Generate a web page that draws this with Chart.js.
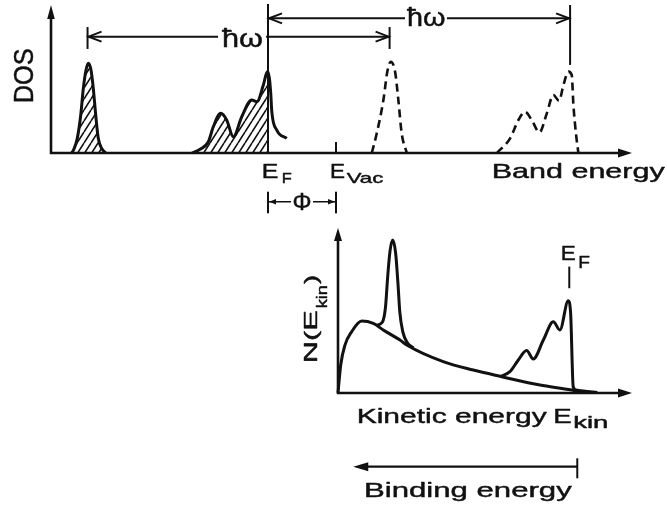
<!DOCTYPE html>
<html><head><meta charset="utf-8">
<script src="https://cdn.jsdelivr.net/npm/chart.js@4"></script>
<style>
html,body{margin:0;padding:0;background:#fff;}
#wrap{position:relative;width:667px;height:513px;background:#fff;}
canvas{position:absolute;left:0;top:0;}
</style></head><body>
<div id="wrap"><canvas id="topChart" width="667" height="513"></canvas><canvas id="botChart" width="667" height="513"></canvas></div>
<script>
// ---------- Top panel: DOS vs band energy (eV, E_F = 0) ----------
const EF = 0;
const Evac = 4.5;
const hw = 20;
const coreLevel = -11.95;
const coreE   = [-13.0,-12.85,-12.63,-12.4,-12.23,-12.05,-11.9,-11.72,-11.57,-11.41,-11.24,-10.99,-10.73];
const coreDOS = [0,0.027,0.099,0.257,0.437,0.561,0.606,0.561,0.437,0.257,0.099,0.027,0];
const valE   = [-5.03,-4.5,-3.95,-3.62,-3.13,-2.74,-2.30,-1.74,-1.08,-0.73,-0.31,-0.05,0,0.09,0.18,0.25,0.58,1.24];
const valDOS = [0,0.025,0.076,0.178,0.268,0.223,0.110,0.245,0.358,0.347,0.459,0.549,0.545,0.505,0.403,0.279,0.155,0.099];
const exCoreE   = [6.87,7.2,7.64,7.9,8.13,8.41,8.63,8.85,9.19];
const exCoreDOS = [0,0.133,0.358,0.55,0.617,0.55,0.358,0.133,0];
const exValE   = [15.15,16.03,16.58,17.02,17.46,17.97,18.46,18.89,19.27,19.56,19.89,20.11,20.22,20.4,20.55];
const exValDOS = [0,0.099,0.223,0.279,0.223,0.139,0.268,0.392,0.353,0.459,0.55,0.527,0.324,0.122,0];
const hwLabelUpperE = 10.46;
const hwLabelLowerE = -1.72;

// ---------- Bottom panel: N(E_kin) vs kinetic energy (eV) ----------
const bgE = [0,0.18,0.46,0.91,1.57,2.34,3.0,4.11,4.56,6.98,8.97,10.86,13.4,15.5,16.05];
const bgN = [0,0.17,0.29,0.372,0.436,0.422,0.382,0.321,0.291,0.19,0.139,0.099,0.048,0.018,0.006];
const corePeakE = [2.55,2.95,3.15,3.3,3.45,3.63,3.82,3.98,4.1,4.3,4.6,5.0];
const corePeakN = [0.41,0.43,0.52,0.71,0.86,0.927,0.85,0.66,0.49,0.37,0.305,0.273];
const valKinE = [10.74,11.4,11.96,12.51,12.95,13.62,14.28,14.72,15.27,15.43,15.6,15.78,16.27,17.2];
const valKinN = [0.099,0.129,0.2,0.257,0.206,0.321,0.432,0.382,0.559,0.483,0.038,0.018,0.012,0.003];
const EFkin = 15.34;
const bindRefE = 15.87;
const bindEndE = 1.01;

const ink = '#111';
const FONT = '"Liberation Sans", Arial, sans-serif';
const pts = (xs, ys) => xs.map((v, i) => ({x: v, y: ys[i]}));

function hatchPattern(){
  const c = document.createElement('canvas'); const w = 7, h = 11;
  c.width = w; c.height = h;
  const g = c.getContext('2d');
  g.strokeStyle = ink; g.lineWidth = 1.6;
  g.beginPath();
  for (const o of [-w, 0, w]) { g.moveTo(o, h); g.lineTo(o + w, 0); }
  g.stroke();
  return g.createPattern(c, 'repeat');
}
const hatch = hatchPattern();

function seg(ctx, x1, y1, x2, y2, lw){
  ctx.lineWidth = lw; ctx.beginPath(); ctx.moveTo(x1, y1); ctx.lineTo(x2, y2); ctx.stroke();
}
function headFilled(ctx, tx, ty, dx, dy, len, half){
  const nx = -dy, ny = dx;
  ctx.beginPath(); ctx.moveTo(tx, ty);
  ctx.lineTo(tx - dx*len + nx*half, ty - dy*len + ny*half);
  ctx.lineTo(tx - dx*len - nx*half, ty - dy*len - ny*half);
  ctx.closePath(); ctx.fill();
}
function headOpen(ctx, tx, ty, dx, dy, len, half, lw){
  const nx = -dy, ny = dx;
  ctx.lineWidth = lw; ctx.beginPath();
  ctx.moveTo(tx - dx*len + nx*half, ty - dy*len + ny*half);
  ctx.lineTo(tx, ty);
  ctx.lineTo(tx - dx*len - nx*half, ty - dy*len - ny*half);
  ctx.stroke();
}
function paintText(ctx, txt){
  ctx.fillText(txt, 0, 0);
  ctx.lineWidth = 0.45; ctx.lineJoin = 'round'; ctx.strokeText(txt, 0, 0);
}
function fit(ctx, txt, x, y, size, w){
  ctx.save(); ctx.font = size + 'px ' + FONT; ctx.textAlign = 'left'; ctx.textBaseline = 'alphabetic';
  const m = ctx.measureText(txt).width;
  ctx.translate(x, y); ctx.scale(w / m, 1); paintText(ctx, txt); ctx.restore();
}
function fitUp(ctx, txt, xBase, yStart, size, len){
  ctx.save(); ctx.font = size + 'px ' + FONT; ctx.textAlign = 'left'; ctx.textBaseline = 'alphabetic';
  const m = ctx.measureText(txt).width;
  ctx.translate(xBase, yStart); ctx.rotate(-Math.PI/2); ctx.scale(len / m, 1); paintText(ctx, txt); ctx.restore();
}

const lineDs = (data, extra) => Object.assign({
  data, borderColor: ink, borderWidth: 3, pointRadius: 0, fill: false,
  cubicInterpolationMode: 'monotone', clip: false
}, extra || {});

const baseOpts = (pad, xr, yr) => ({
  responsive: false, animation: false, devicePixelRatio: 1, events: [],
  layout: {padding: pad},
  plugins: {legend: {display: false}, tooltip: {enabled: false}, title: {display: false}},
  scales: {
    x: {type: 'linear', min: xr[0], max: xr[1], display: false},
    y: {type: 'linear', min: yr[0], max: yr[1], display: false}
  }
});

// ---------- Top chart ----------
const topDeco = {
  id: 'topDeco',
  afterDraw(chart){
    const {ctx, chartArea: a, scales: {x, y}} = chart;
    const X = v => x.getPixelForValue(v), Y = v => y.getPixelForValue(v);
    ctx.save(); ctx.strokeStyle = ink; ctx.fillStyle = ink;
    // axes
    seg(ctx, a.left, a.bottom + 1, a.left, a.top + 12, 2.6);
    headFilled(ctx, a.left, a.top, 0, -1, 14, 3.8);
    seg(ctx, a.left - 1, a.bottom, a.right - 12, a.bottom, 2.6);
    headFilled(ctx, a.right, a.bottom, 1, 0, 14, 4.5);
    // E_F line
    seg(ctx, X(EF), Y(1.007), X(EF), Y(0), 2);
    // upper hw arrow (E_F -> E_F + hw)
    const yU = Y(0.91);
    seg(ctx, X(EF), yU, X(EF + hw), yU, 2);
    headOpen(ctx, X(EF) + 1, yU, -1, 0, 13, 5, 2);
    headOpen(ctx, X(EF + hw) - 1, yU, 1, 0, 13, 5, 2);
    seg(ctx, X(EF + hw), Y(1.0), X(EF + hw), Y(0.595), 2);
    // lower hw arrow (core -> core + hw)
    const yL = Y(0.786);
    seg(ctx, X(coreLevel), yL, X(coreLevel + hw), yL, 2);
    headOpen(ctx, X(coreLevel) + 1, yL, -1, 0, 13, 5, 2);
    headOpen(ctx, X(coreLevel + hw) - 1, yL, 1, 0, 13, 5, 2);
    seg(ctx, X(coreLevel), Y(0.851), X(coreLevel), Y(0.703), 2);
    seg(ctx, X(coreLevel + hw), Y(0.851), X(coreLevel + hw), Y(0.703), 2);
    // hw labels with gaps
    ctx.fillStyle = '#fff';
    const cu = X(hwLabelUpperE), cl = X(hwLabelLowerE);
    ctx.fillRect(cu - 21, yU - 3, 42, 6);
    ctx.fillRect(cl - 24, yL - 3, Math.min(48, X(EF) - 1.5 - (cl - 24)), 6);
    ctx.fillStyle = ink;
    fit(ctx, '\u0127\u03C9', cu - 19, yU + 8, 26, 38.5);
    fit(ctx, '\u0127\u03C9', cl - 20, yL + 10, 26, 41);
    // E_vac tick
    seg(ctx, X(Evac), Y(0.074), X(Evac), Y(0), 2);
    // Phi arrow
    const yP = a.bottom + 48.7;
    seg(ctx, X(EF), a.bottom + 38.7, X(EF), a.bottom + 60.3, 2);
    seg(ctx, X(Evac), a.bottom + 38.7, X(Evac), a.bottom + 60.3, 2);
    seg(ctx, X(EF), yP, X(Evac), yP, 1.6);
    headFilled(ctx, X(EF) + 1, yP, -1, 0, 7, 2.8);
    headFilled(ctx, X(Evac) - 1, yP, 1, 0, 7, 2.8);
    const cP = X((EF + Evac) / 2);
    ctx.fillStyle = '#fff'; ctx.fillRect(cP - 11, yP - 3, 22, 6); ctx.fillStyle = ink;
    fit(ctx, '\u03A6', cP - 9.5, a.bottom + 57, 23, 19);
    // labels under axis
    fit(ctx, 'E', X(EF) - 6.3, a.bottom + 25.3, 21, 16.6);
    fit(ctx, 'F', X(EF) + 13.7, a.bottom + 30.3, 15, 10);
    fit(ctx, 'E', X(Evac) - 6, a.bottom + 25.3, 21, 15);
    fit(ctx, 'Vac', X(Evac) + 10.7, a.bottom + 30.3, 15, 36.6);
    fit(ctx, 'Band energy', a.right - 140.3, a.bottom + 25.3, 21, 173);
    fitUp(ctx, 'DOS', a.left - 17.7, a.top + 98.3, 28, 55);
    ctx.restore();
  }
};

new Chart(document.getElementById('topChart'), {
  type: 'line',
  data: {datasets: [
    lineDs(pts(coreE, coreDOS), {fill: 'origin', backgroundColor: hatch}),
    lineDs(pts(valE, valDOS)),
    lineDs(pts(valE, valDOS).filter(p => p.x <= EF), {borderWidth: 0, fill: 'origin', backgroundColor: hatch}),
    lineDs(pts(exCoreE, exCoreDOS), {borderWidth: 2.6, borderDash: [8, 5]}),
    lineDs(pts(exValE, exValDOS), {borderWidth: 2.6, borderDash: [8, 5]})
  ]},
  options: baseOpts({left: 51, right: 35, top: 5, bottom: 360}, [-14.37, 24.1], [0, 1]),
  plugins: [topDeco]
});

// ---------- Bottom chart ----------
const botDeco = {
  id: 'botDeco',
  afterDraw(chart){
    const {ctx, chartArea: a, scales: {x, y}} = chart;
    const X = v => x.getPixelForValue(v), Y = v => y.getPixelForValue(v);
    ctx.save(); ctx.strokeStyle = ink; ctx.fillStyle = ink;
    seg(ctx, a.left, a.bottom + 1, a.left, a.top + 11, 2.6);
    headFilled(ctx, a.left, a.top, 0, -1, 13, 4);
    seg(ctx, a.left - 1, a.bottom, a.right - 12, a.bottom, 2.6);
    headFilled(ctx, a.right, a.bottom, 1, 0, 14, 4.5);
    // E_F marker
    seg(ctx, X(EFkin), Y(0.766), X(EFkin), Y(0.635), 2);
    fit(ctx, 'E', X(EFkin) - 8.6, Y(0.806), 21, 15);
    fit(ctx, 'F', X(EFkin) + 9, Y(0.756), 17, 11.7);
    // axis labels
    fit(ctx, 'Kinetic energy', a.left + 18.7, a.bottom + 30.3, 21, 190);
    fit(ctx, 'E', a.left + 215.3, a.bottom + 30.3, 21, 18.4);
    fit(ctx, 'kin', a.left + 235.3, a.bottom + 35.3, 16, 35);
    fitUp(ctx, 'N(E', a.left - 21.3, a.top + 135.3, 19, 53);
    fitUp(ctx, 'kin', a.left - 11, a.top + 80.3, 14, 23.3);
    fitUp(ctx, ')', a.left - 21.3, a.top + 56, 19, 9);
    // binding energy arrow
    const yB = a.bottom + 73.7;
    seg(ctx, X(bindRefE), yB, X(bindEndE) + 12, yB, 2.2);
    headFilled(ctx, X(bindEndE), yB, -1, 0, 15, 4.5);
    seg(ctx, X(bindRefE), a.bottom + 65.3, X(bindRefE), a.bottom + 85.3, 2);
    fit(ctx, 'Binding energy', a.left + 26, a.bottom + 103.7, 21, 207.7);
    ctx.restore();
  }
};

new Chart(document.getElementById('botChart'), {
  type: 'line',
  data: {datasets: [
    lineDs(pts(bgE, bgN)),
    lineDs(pts(corePeakE, corePeakN)),
    lineDs(pts(valKinE, valKinN))
  ]},
  options: baseOpts({left: 338, right: 35, top: 228, bottom: 120}, [0, 19.5], [0, 1]),
  plugins: [botDeco]
});
</script>
</body></html>
